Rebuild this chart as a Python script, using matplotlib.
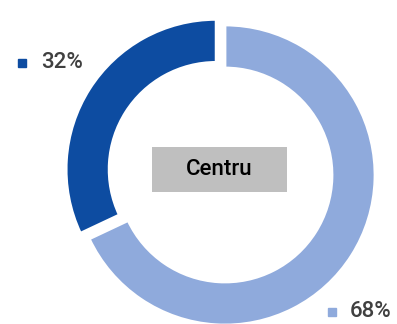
import matplotlib.pyplot as plt
from matplotlib.patches import Rectangle

# donut data
shares = [68, 32]
share_labels = ["68%", "32%"]
colors = ["#8FAADC", "#0D4CA1"]
center_label = "Centru"

fig = plt.figure(figsize=(3.97, 3.24), dpi=100)
ax = fig.add_axes([0, 0, 1, 1])

# pull the small slice out a little
ax.pie(shares, colors=colors, startangle=90, counterclock=False,
       center=(225, 149), radius=150, explode=[0, 10.5],
       wedgeprops=dict(width=43, edgecolor="white", linewidth=2))

ax.set_xlim(0, 397)
ax.set_ylim(0, 324)
ax.set_aspect("equal")
ax.axis("off")

# legend-like labels next to the ring
label_pos = [((332, 12.5), 350), ((21.5, 261), 41)]
for (mpos, tx), lab, c in zip(label_pos, share_labels, colors):
    ax.plot(mpos[0], mpos[1], marker="s", markersize=6, color=c, linestyle="none")
    ax.text(tx, mpos[1], lab, fontsize=16, color="#404040", fontweight="medium",
            family="Roboto", va="center", ha="left")

# grey box in the middle
ax.add_patch(Rectangle((152, 132), 135, 45, facecolor="#BFBFBF", edgecolor="none"))
ax.text(219, 154.5, center_label, fontsize=16, color="black", fontweight="medium",
        family="Roboto", ha="center", va="center")

fig.savefig("out.png", dpi=100)
